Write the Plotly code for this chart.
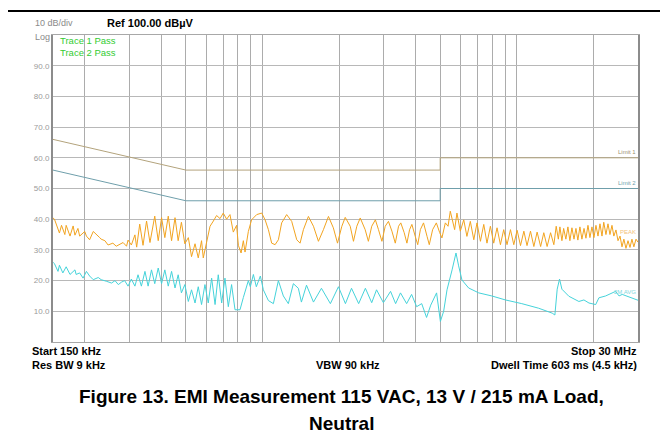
import plotly.graph_objects as go

# trace 1 (peak, orange) - frequency in MHz / level in dBuV
peak_mhz = [0.150, 0.152, 0.159, 0.162, 0.167, 0.169, 0.175, 0.180, 0.183, 0.188,
            0.191, 0.200, 0.203, 0.209, 0.216, 0.222, 0.229, 0.232, 0.240, 0.247,
            0.258, 0.266, 0.275, 0.283, 0.292, 0.296, 0.305, 0.315, 0.320, 0.329,
            0.339, 0.350, 0.361, 0.377, 0.389, 0.401, 0.413, 0.426, 0.439, 0.453,
            0.466, 0.480, 0.495, 0.511, 0.526, 0.543, 0.559, 0.576, 0.585, 0.603,
            0.622, 0.641, 0.660, 0.681, 0.701, 0.723, 0.745, 0.768, 0.791, 0.804,
            0.824, 0.841, 0.854, 0.880,
            0.906, 0.949, 0.993, 1.024, 1.055, 1.087, 1.121, 1.155, 1.190, 1.245,
            1.303, 1.364, 1.406, 1.449, 1.516, 1.587, 1.660, 1.737, 1.818, 1.900,
            1.973, 2.052, 2.116, 2.214, 2.280, 2.350, 2.424, 2.535, 2.610, 2.690,
            2.780, 2.860, 2.950, 3.040, 3.130, 3.230, 3.330, 3.430, 3.500, 3.610,
            3.700, 3.790, 3.870, 3.990, 4.080, 4.180, 4.300, 4.440, 4.530, 4.670,
            4.830, 4.980, 5.080,
            5.24, 5.37, 5.48, 5.60, 5.70, 5.82, 6.00, 6.19, 6.37, 6.57,
            6.78, 6.98, 7.20, 7.42, 7.64, 7.88, 8.12, 8.37, 8.63, 8.89,
            9.16, 9.45, 9.74, 10.04, 10.35, 10.67, 10.98, 11.33, 11.68, 12.03,
            12.42, 12.78, 13.17, 13.59, 14.00, 14.30,
            14.58, 14.79, 15.06, 15.30, 15.61, 15.90, 16.19, 16.49, 16.80, 17.10,
            17.40, 17.73, 18.05, 18.40, 18.72, 19.07, 19.41, 19.77, 20.13, 20.50,
            20.88, 21.26, 21.65, 22.00, 22.44, 22.86, 23.27, 23.70, 24.10, 24.57,
            25.03, 25.49, 25.95, 26.40, 26.90, 27.40, 27.90, 28.40, 28.90, 29.46,
            30.00]
peak_db = [40.4, 40.0, 35.5, 38.0, 35.0, 38.0, 34.5, 37.8, 34.8, 37.0,
           34.5, 36.0, 34.5, 33.3, 36.0, 35.2, 34.0, 33.5, 33.0, 31.6,
           32.2, 31.2, 31.8, 32.4, 31.2, 33.2, 31.6, 34.9, 30.9, 38.4,
           31.5, 39.4, 32.4, 41.0, 33.0, 40.5, 34.0, 41.0, 33.0, 40.5,
           33.0, 39.0, 32.0, 34.0, 27.8, 32.0, 27.4, 33.0, 27.4, 32.0,
           37.7, 39.4, 41.2, 40.2, 42.0, 40.0, 41.5, 35.8, 38.0, 31.5,
           29.0, 33.0, 29.3, 36.0,
           39.8, 41.5, 42.0, 39.8, 36.6, 32.2, 31.7, 33.3, 38.8, 41.5,
           39.3, 33.3, 32.2, 36.6, 40.9, 37.7, 32.8, 36.6, 40.9, 37.2,
           32.2, 37.7, 40.6, 37.7, 32.8, 37.7, 40.4, 36.6, 32.8, 37.7,
           39.8, 36.6, 32.8, 37.7, 39.3, 36.1, 32.2, 37.7, 38.8, 35.6,
           32.2, 36.6, 38.3, 34.4, 31.7, 36.6, 38.8, 34.4, 31.7, 36.6,
           38.8, 35.6, 33.9,
           38.8, 37.7, 42.6, 39.8, 36.6, 42.0, 36.1, 39.8, 34.4, 39.3,
           33.3, 38.8, 32.8, 38.3, 32.2, 37.7, 32.2, 37.2, 31.7, 36.6,
           31.7, 36.6, 31.7, 36.4, 31.4, 36.1, 31.4, 36.1, 31.1, 35.8,
           31.1, 35.6, 31.1, 35.6, 31.7, 37.7,
           33.5, 37.5, 33.0, 37.0, 33.5, 37.5, 33.0, 37.2, 33.5, 37.0,
           33.2, 37.5, 33.5, 37.0, 33.8, 38.0, 34.0, 37.5, 34.0, 38.0,
           34.5, 38.5, 34.5, 39.0, 35.0, 38.5, 35.0, 38.0, 34.5, 36.5,
           33.0, 34.5, 31.0, 33.5, 30.5, 33.0, 30.8, 33.5, 31.0, 33.5,
           32.5]

# trace 2 (average, cyan)
avg_mhz = [0.150, 0.152, 0.157, 0.159, 0.164, 0.169, 0.175, 0.183, 0.185, 0.191,
           0.197, 0.203, 0.209, 0.216, 0.226, 0.232, 0.243, 0.255, 0.263, 0.271,
           0.279, 0.287, 0.296, 0.305, 0.315, 0.324, 0.334, 0.345, 0.355, 0.366,
           0.377, 0.389, 0.401, 0.413, 0.426, 0.439, 0.453, 0.466, 0.480, 0.495,
           0.511, 0.526, 0.543, 0.559, 0.576, 0.594, 0.612, 0.631, 0.651, 0.670,
           0.691, 0.712, 0.734, 0.756, 0.780, 0.816, 0.841, 0.866, 0.880, 0.896,
           0.921, 0.946, 0.981, 1.008, 1.055, 1.104, 1.155, 1.208, 1.264, 1.323,
           1.384, 1.423, 1.49, 1.587, 1.706, 1.85, 1.99, 2.12, 2.24, 2.39,
           2.54, 2.69, 2.81, 2.99, 3.19, 3.34, 3.49, 3.69, 3.86, 4.04,
           4.23, 4.42, 4.59, 4.84, 5.01, 5.16, 5.32, 5.57, 5.77, 5.91,
           6.09, 6.47, 7.09, 7.98, 9.03, 10.47, 12.2, 13.79, 14.13, 14.43,
           14.74, 15.06, 16.04, 17.56, 18.38, 19.24, 20.45, 21.06, 22.38, 24.5,
           25.26, 26.0, 28.1, 30.0]
avg_db = [26.0, 25.5, 23.0, 25.0, 22.5, 24.5, 22.0, 23.5, 22.0, 22.5,
          20.8, 23.0, 21.5, 20.3, 21.0, 20.3, 19.8, 19.2, 20.0, 18.7,
          19.5, 20.0, 18.2, 20.5, 18.2, 21.9, 18.2, 23.0, 18.2, 23.5,
          19.0, 24.1, 19.0, 23.5, 18.2, 23.0, 17.6, 21.9, 16.0, 18.7,
          13.2, 17.0, 12.7, 18.0, 12.2, 18.7, 12.7, 20.8, 12.2, 21.9,
          12.7, 20.8, 11.5, 18.7, 10.5, 10.5, 14.5, 18.2, 20.0, 18.0,
          22.0, 18.0, 21.5, 17.0, 13.5, 12.5, 20.0, 15.0, 12.5, 19.0,
          17.5, 13.0, 18.5, 13.0, 17.5, 12.5, 18.0, 12.5, 17.5, 12.5,
          17.5, 12.8, 17.0, 12.8, 16.5, 12.5, 16.0, 12.5, 15.5, 11.5,
          12.5, 8.0, 12.0, 16.0, 6.7, 10.0, 17.0, 23.5, 29.0, 24.8,
          20.2, 17.6, 16.0, 15.0, 13.7, 12.5, 11.0, 9.4, 8.8, 17.2,
          20.5, 17.2, 14.9, 13.2, 13.7, 12.7, 12.2, 14.4, 15.0, 16.5,
          15.0, 15.5, 14.4, 13.6]

# limit lines
limit_mhz = [0.15, 0.5, 5.0, 5.0, 30.0]
limit1_db = [66, 56, 56, 60, 60]
limit2_db = [56, 46, 46, 50, 50]

grid_mhz = [0.2, 0.3, 0.4, 0.5, 0.6, 0.7, 0.8, 0.9, 1, 2, 3, 4, 5, 6, 7, 8, 9, 10, 20]
ytick_vals = [10, 20, 30, 40, 50, 60, 70, 80, 90]
ytick_text = ["10.0", "20.0", "30.0", "40.0", "50.0", "60.0", "70.0", "80.0", "90.0"]

FONT = "Arial, Liberation Sans, sans-serif"

fig = go.Figure()
fig.add_trace(go.Scatter(x=limit_mhz, y=limit1_db, mode="lines",
                         line=dict(color="#b3a37c", width=1)))
fig.add_trace(go.Scatter(x=limit_mhz, y=limit2_db, mode="lines",
                         line=dict(color="#6f9fab", width=1)))
fig.add_trace(go.Scatter(x=peak_mhz, y=peak_db, mode="lines",
                         line=dict(color="#f2a420", width=1)))
fig.add_trace(go.Scatter(x=avg_mhz, y=avg_db, mode="lines",
                         line=dict(color="#45d3da", width=1)))

fig.update_layout(
    width=668, height=437,
    margin=dict(l=45, r=38, t=27, b=103),
    paper_bgcolor="white", plot_bgcolor="white",
    showlegend=False,
    font=dict(family=FONT),
)
fig.update_xaxes(type="log", range=[-0.8239, 1.4771], tickvals=grid_mhz,
                 showticklabels=False, ticks="", showgrid=True,
                 gridcolor="#acacac", gridwidth=1, zeroline=False,
                 showline=True, mirror=True, linecolor="#a8a8a8", linewidth=1)
fig.update_yaxes(range=[0, 100], tickvals=ytick_vals, ticktext=ytick_text,
                 tickfont=dict(size=8, color="#9a9a9a"), ticks="",
                 showgrid=True, gridcolor="#b8b8b8", gridwidth=1, zeroline=False,
                 showline=True, mirror=True, linecolor="#8c8c8c", linewidth=2)

def note(text, x, y, size, color="black", bold=False, xanchor="left", yanchor="middle"):
    if bold:
        text = "<b>" + text + "</b>"
    fig.add_annotation(text=text, x=x, y=y, xref="paper", yref="paper",
                       xanchor=xanchor, yanchor=yanchor, showarrow=False, align="left",
                       font=dict(size=size, color=color, family=FONT))

note("10 dB/div", -0.034, 1.039, 9, "#8a8a8a")
note("Log", -0.034, 0.995, 9, "#8a8a8a")
note("Ref 100.00 dBµV", 0.089, 1.039, 11, bold=True)
note("Trace 1 Pass<br>Trace 2 Pass", 0.008, 0.964, 9.5, "#33cc33")
note("Limit 1", 1.0, 0.619, 6, "#9c9070", xanchor="right")
note("Limit 2", 1.0, 0.518, 6, "#6f9fab", xanchor="right")
note("PEAK", 1.0, 0.358, 6, "#f3c27a", xanchor="right")
note("2M AVG", 1.0, 0.163, 6, "#7fd8de", xanchor="right")
note("Start 150 kHz", -0.039, -0.029, 11, bold=True)
note("Res BW 9 kHz", -0.039, -0.075, 11, bold=True)
note("Stop 30 MHz", 1.002, -0.029, 11, bold=True, xanchor="right")
note("Dwell Time 603 ms (4.5 kHz)", 1.002, -0.075, 11, bold=True, xanchor="right")
note("VBW 90 kHz", 0.504, -0.075, 11, bold=True, xanchor="center")
note("Figure 13. EMI Measurement 115 VAC, 13 V / 215 mA Load,", 0.494, -0.176, 19,
     bold=True, xanchor="center")
note("Neutral", 0.494, -0.267, 19, bold=True, xanchor="center")

# black frame around the figure (top and right edges)
fig.add_shape(type="line", xref="paper", yref="paper", x0=-0.08, x1=1.07,
              y0=1.078, y1=1.078, line=dict(color="black", width=2))
fig.add_shape(type="line", xref="paper", yref="paper", x0=1.06, x1=1.06,
              y0=1.078, y1=-0.34, line=dict(color="black", width=2))

fig.write_html("out.html")
